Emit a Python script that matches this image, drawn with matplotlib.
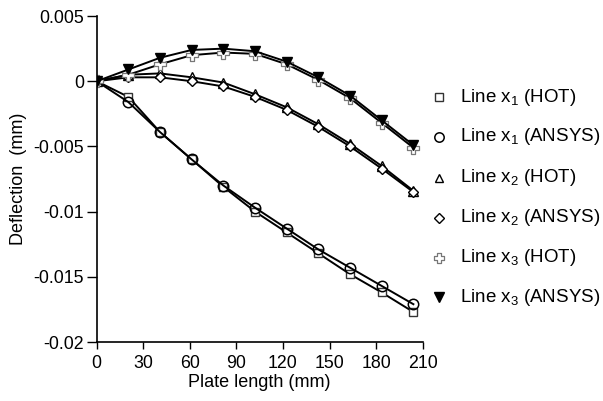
import matplotlib
matplotlib.use("Agg")
import matplotlib.pyplot as plt
from matplotlib.path import Path
from matplotlib.lines import Line2D

plt.rcParams['font.family'] = ['Liberation Sans', 'DejaVu Sans']
plt.rcParams['mathtext.fontset'] = 'custom'
plt.rcParams['mathtext.rm'] = 'Liberation Sans'
plt.rcParams['mathtext.it'] = 'Liberation Sans'

# positions along the plate (mm)
plate_x = [0, 20.4, 40.8, 61.2, 81.6, 102.0, 122.4, 142.8, 163.2, 183.6, 204.0]

# deflections (mm)
x1_hot = [0, -0.0012, -0.0039, -0.0060, -0.0081, -0.0100, -0.0116, -0.0132, -0.0148, -0.0162, -0.0177]
x1_ansys = [0, -0.0016, -0.0039, -0.0060, -0.0080, -0.0097, -0.0113, -0.0129, -0.0143, -0.0157, -0.0171]
x2_hot = [0, 0.0005, 0.0006, 0.0003, -0.0001, -0.0010, -0.0020, -0.0033, -0.0048, -0.0065, -0.0084]
x2_ansys = [0, 0.0003, 0.0003, 0.0000, -0.0004, -0.0012, -0.0022, -0.0035, -0.0050, -0.0067, -0.0085]
x3_hot = [0, 0.0005, 0.0013, 0.0020, 0.0022, 0.0021, 0.0013, 0.0001, -0.0013, -0.0032, -0.0051]
x3_ansys = [0, 0.0009, 0.0018, 0.0024, 0.0025, 0.0023, 0.0015, 0.0003, -0.0011, -0.0030, -0.0049]

labels = [r'Line x$_1$ (HOT)', r'Line x$_1$ (ANSYS)', r'Line x$_2$ (HOT)',
          r'Line x$_2$ (ANSYS)', r'Line x$_3$ (HOT)', r'Line x$_3$ (ANSYS)']

x_ticks = [0, 30, 60, 90, 120, 150, 180, 210]
y_ticks = [0.005, 0, -0.005, -0.01, -0.015, -0.02]
y_tick_labels = ['0.005', '0', '-0.005', '-0.01', '-0.015', '-0.02']

# outlined plus-shaped marker
a, b = 0.35, 1.0
plus_verts = [(-a, b), (a, b), (a, a), (b, a), (b, -a), (a, -a), (a, -b),
              (-a, -b), (-a, -a), (-b, -a), (-b, a), (-a, a), (-a, b)]
plus_marker = Path(plus_verts, closed=True)

fig = plt.figure(figsize=(6.03, 4.01), dpi=100)
ax = fig.add_axes([0.1604, 0.1471, 0.5406, 0.8129])

series = [
    (x1_hot, dict(marker='s', ms=6, mfc='white', mec='#333333', mew=1.0)),
    (x1_ansys, dict(marker='o', ms=7.5, mfc='none', mec='black', mew=1.1)),
    (x2_hot, dict(marker='^', ms=7, mfc='white', mec='black', mew=1.0)),
    (x2_ansys, dict(marker='D', ms=5.5, mfc='white', mec='black', mew=1.0)),
    (x3_hot, dict(marker=plus_marker, ms=8, mfc='white', mec='#777777', mew=0.9)),
    (x3_ansys, dict(marker='v', ms=7.5, mfc='black', mec='black', mew=1.0)),
]

for ys, style in series:
    ax.plot(plate_x, ys, color='black', lw=1.4, **style)

ax.set_xlim(0, 210)
ax.set_ylim(-0.02, 0.005)
ax.set_xticks(x_ticks)
ax.set_yticks(y_ticks)
ax.set_yticklabels(y_tick_labels)
for s in ['top', 'right']:
    ax.spines[s].set_visible(False)
for s in ['left', 'bottom']:
    ax.spines[s].set_linewidth(1.2)
ax.tick_params(axis='y', direction='out', length=7, width=1.0, pad=2, labelsize=12.8)
ax.tick_params(axis='x', direction='out', length=5, width=1.0, pad=4, labelsize=12.8)
ax.set_xlabel('Plate length (mm)', fontsize=13, labelpad=2)
ax.set_ylabel('Deflection  (mm)', fontsize=13, labelpad=5)

# legend entries: marker and text placed in figure coordinates
row_y = [97, 137, 178, 218, 258, 297]
for (ys, style), lab, ry in zip(series, labels, row_y):
    yf = 1 - ry / 401
    st = dict(style)
    st['ms'] = st['ms'] * 0.9
    fig.add_artist(Line2D([439 / 603], [yf], transform=fig.transFigure,
                          linestyle='none', **st))
    fig.text(460 / 603, yf, lab, fontsize=13.5, va='center', ha='left')

fig.savefig('out.png', dpi=100)
